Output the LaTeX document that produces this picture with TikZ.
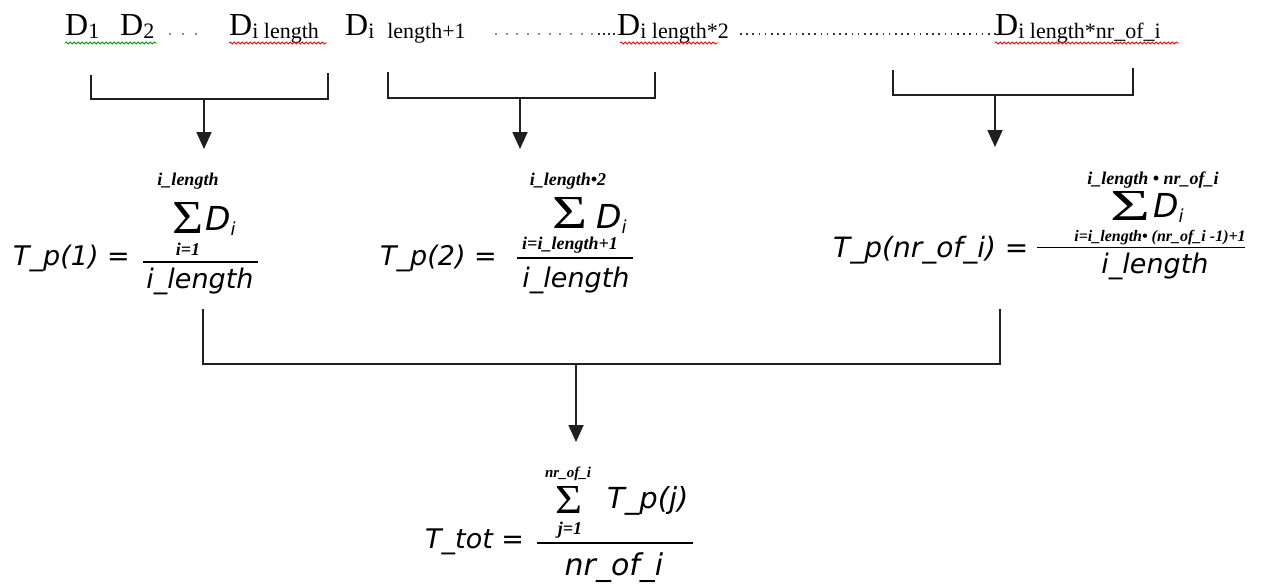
\documentclass[tikz,border=0pt]{standalone}
\usepackage{fontspec}
\usepackage{graphicx}
\setmainfont{Liberation Serif}
\newfontfamily\eqf{DejaVu Sans}
\usetikzlibrary{arrows.meta,decorations.pathmorphing}
\newcommand\ds[1]{\raisebox{-3pt}{\fontsize{22}{22}\selectfont #1}}
\newcommand\di{\raisebox{-5pt}{\fontsize{18}{18}\selectfont i}}
\newcommand\us{\textunderscore}
\newcommand\sg[2]{\resizebox{#1pt}{#2pt}{\symbol{"03A3}}}
\begin{document}
\begin{tikzpicture}[x=1pt,y=-1pt,
  ln/.style={line width=1.8pt, draw=black!88},
  arr/.style={line width=1.8pt, draw=black!88, -{Triangle[length=17pt,width=15pt]}},
  barline/.style={line width=1.4pt, draw=black},
  dtop/.style={font=\fontsize{32}{32}\selectfont, inner sep=0pt, anchor=base west},
  eqtxt/.style={font=\fontsize{27}{27}\selectfont\eqf\itshape, inner sep=0pt},
  dtxt/.style={font=\fontsize{33}{33}\selectfont\eqf\itshape, inner sep=0pt, anchor=base west},
  limtxt/.style={font=\fontsize{18}{18}\selectfont\bfseries\itshape, inner sep=0pt, anchor=base},
  sig/.style={inner sep=0pt},
  wavy/.style={decorate, decoration={snake, amplitude=1.1pt, segment length=4pt}, line width=0.8pt},
  dotsg/.style={line width=2pt, draw=black!45},
  dotsb/.style={line width=1.6pt, draw=black!80}
]
\useasboundingbox (0,0) rectangle (1269,584);

% top row
\node[dtop] (dA) at (65,35) {D\ds{1}};
\node[dtop] (dB) at (120,35) {D\ds{2}};
\node[dtop] (dC) at (229,35) {D\ds{i length}};
\node[dtop] (dD) at (345,35) {D\ds{i\,\, length+1}};
\node[dtop] (dE) at (617,35) {D\ds{i length*2}};
\node[dtop] (dF) at (995,35) {D\ds{i length*nr\us of\us i}};
\draw[dotsg, dash pattern=on 2pt off 11pt] (169,34) -- (202,34);
\draw[dotsg, dash pattern=on 2pt off 8.7pt] (495,34) -- (595,34);
\draw[dotsb, dash pattern=on 1.6pt off 3.4pt] (598,34) -- (616,34);
\draw[dotsb, dash pattern=on 1.6pt off 4.6pt] (740,34) -- (996,34);
\draw[wavy, draw=green!60!black] (65,43) -- (157,43);
\draw[wavy, draw=red] (229,43) -- (327,43);
\draw[wavy, draw=red] (620,43) -- (718,43);
\draw[wavy, draw=red] (995,43) -- (1179,43);

% brackets
\coordinate (b1l) at (91,75);  \coordinate (b1r) at (328,73);
\coordinate (b2l) at (388,72); \coordinate (b2r) at (655,72);
\coordinate (b3l) at (893,70); \coordinate (b3r) at (1133,68);
\draw[ln] (b1l) -- (91,99) -- (328,99) -- (b1r);
\draw[ln] (b2l) -- (388,98) -- (655,98) -- (b2r);
\draw[ln] (b3l) -- (893,95) -- (1133,95) -- (b3r);
\coordinate (b1m) at (204,99);  \coordinate (f1tip) at (204,149);
\coordinate (b2m) at (520,98);  \coordinate (f2tip) at (520,149);
\coordinate (b3m) at (995,95);  \coordinate (f3tip) at (995,147);
\draw[arr] (b1m) -- (f1tip);
\draw[arr] (b2m) -- (f2tip);
\draw[arr] (b3m) -- (f3tip);

% formula 1
\node[eqtxt, anchor=base west] (f1l) at (13,265) {T\us p(1) =};
\node[limtxt] (f1up) at (188,185) {i\us length};
\node[sig] (f1s) at (187.5,217.5) {\sg{31}{31}};
\node[dtxt] (f1d) at (205,230) {D\di};
\node[limtxt] (f1lo) at (188,255) {i=1};
\draw[barline] (143,262) -- (258,262);
\node[eqtxt, anchor=base] (f1den) at (200,288) {i\us length};

% formula 2
\node[eqtxt, anchor=base west] (f2l) at (380,265) {T\us p(2) =};
\node[limtxt] (f2up) at (568,185) {i\us length•2};
\node[sig] (f2s) at (569.5,212.5) {\sg{35}{31}};
\node[dtxt] (f2d) at (596,228) {D\di};
\node[limtxt] (f2lo) at (570,249) {i=i\us length+1};
\draw[barline] (517,258) -- (633,258);
\node[eqtxt, anchor=base] (f2den) at (576,287) {i\us length};

% formula 3
\node[eqtxt, anchor=base west, font=\fontsize{28}{28}\selectfont\eqf\itshape] (f3l) at (833,257) {T\us p(nr\us of\us i) =};
\node[limtxt] (f3up) at (1153,184) {i\us length • nr\us of\us i};
\node[sig] (f3s) at (1130,206) {\sg{40}{29}};
\node[dtxt] (f3d) at (1153,217) {D\di};
\node[limtxt, font=\fontsize{16}{16}\selectfont\bfseries\itshape] (f3lo) at (1160,241.5) {i=i\us length• (nr\us of\us i -1)+1};
\draw[barline] (1037,247.5) -- (1245,247.5);
\node[eqtxt, anchor=base] (f3den) at (1155,273) {i\us length};

% join
\coordinate (c1) at (203,309); \coordinate (c1b) at (203,364);
\coordinate (c3) at (1000,309); \coordinate (c3b) at (1000,364);
\coordinate (cm) at (576,364); \coordinate (ctip) at (576,442);
\draw[ln] (c1) -- (c1b) -- (c3b) -- (c3);
\draw[arr] (cm) -- (ctip);

% total
\node[eqtxt, anchor=base west] (tl) at (425,548) {T\us tot =};
\node[limtxt, font=\fontsize{15}{15}\selectfont\bfseries\itshape] (tup) at (568,477) {nr\us of\us i};
\node[sig] (ts) at (568.5,499.5) {\sg{27}{27}};
\node[eqtxt, anchor=base west, font=\fontsize{29}{29}\selectfont\eqf\itshape] (tt) at (607,508) {T\us p(j)};
\node[limtxt] (tlo) at (570,534) {j=1};
\draw[barline] (537,543) -- (693,543);
\node[eqtxt, anchor=base, font=\fontsize{30}{30}\selectfont\eqf\itshape] (tden) at (614,575) {nr\us of\us i};
\end{tikzpicture}
\end{document}
